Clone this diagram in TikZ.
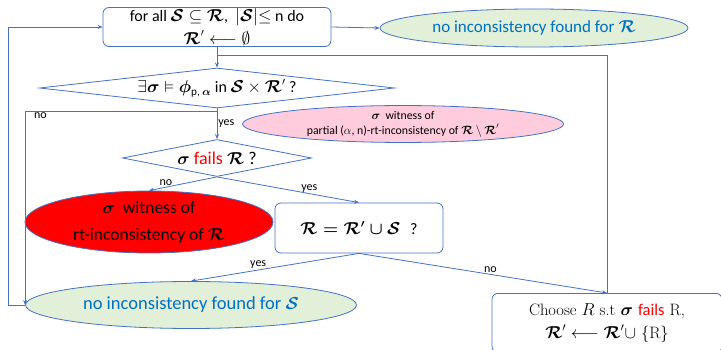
\documentclass[tikz,border=0pt]{standalone}
\usepackage{amsmath,amssymb,bm}
\usepackage{fontspec}
\newfontfamily\carl{Carlito}
\usetikzlibrary{shapes.geometric,arrows.meta,calc}
\definecolor{lnblue}{HTML}{4472C4}
\definecolor{grfill}{HTML}{E2F0D9}
\definecolor{pkfill}{HTML}{FFCCDD}
\definecolor{txblue}{HTML}{0070C0}
\newcommand{\bR}{\bm{\mathcal{R}}}
\newcommand{\bS}{\bm{\mathcal{S}}}
\newcommand{\bsig}{\bm{\sigma}}
\tikzset{
  boxnode/.style={draw=lnblue, line width=0.8pt, rounded corners=6pt, align=center, inner sep=0pt},
  ellnode/.style={ellipse, draw=lnblue, line width=0.8pt, inner sep=0pt, align=center},
  dianode/.style={diamond, draw=lnblue, line width=0.8pt, inner sep=0pt, align=center},
  arr/.style={draw=lnblue, line width=0.8pt, -{Stealth[length=5pt,width=4pt]}},
  ln/.style={draw=lnblue, line width=0.8pt},
  lbl/.style={font=\carl\fontsize{12}{14}\selectfont, inner sep=1pt}
}
\begin{document}
\begin{tikzpicture}[x=1pt,y=-1pt]
\useasboundingbox (0,0) rectangle (721,350);
\node[boxnode, minimum width=228, minimum height=39, font=\carl\fontsize{16}{21}\selectfont] (top) at (217,27)
  {for all $\bS \subseteq \bR$,\ \ $|\bS|{\le}$ n do\\[2pt] $\bR' \longleftarrow \emptyset$};
\node[ellnode, fill=grfill, minimum width=308, minimum height=38, text=txblue, font=\carl\fontsize{17}{20}\selectfont] (eR) at (534,28)
  {no inconsistency found for $\bR$};
\node[dianode, aspect=9, minimum width=355, minimum height=40, font=\carl\fontsize{16}{19}\selectfont] (d1) at (217,88)
  {$\exists\bsig \vDash \boldsymbol{\phi}_{\text{p, }\bm{\alpha}}$ in $\bS \times \bR'$ ?};
\node[ellnode, fill=pkfill, minimum width=321, minimum height=34, font=\carl\fontsize{11.8}{15}\selectfont] (pk) at (403,124)
  {$\bsig$\ \ witness of\\ partial ($\alpha$, n)-rt-inconsistency of $\bR \setminus \bR'$};
\node[dianode, aspect=5, minimum width=189, minimum height=37, font=\carl\fontsize{18}{21}\selectfont] (d2) at (217,158)
  {$\bsig$ \textcolor{red}{fails} $\bR$ ?};
\node[ellnode, fill=red, minimum width=248, minimum height=62, font=\carl\fontsize{17.5}{27}\selectfont] (rd) at (149,222)
  {$\bsig$\ \ witness of\\ rt-inconsistency of $\bR$};
\node[boxnode, minimum width=168, minimum height=50, font=\fontsize{16}{19}\selectfont] (eq) at (359,228)
  {{\boldmath$\mathcal{R} = \mathcal{R}' \cup \mathcal{S}$}\ \ {\carl ?}};
\node[ellnode, fill=grfill, minimum width=331, minimum height=47, text=txblue, font=\carl\fontsize{18.5}{22}\selectfont] (eS) at (191,305)
  {no inconsistency found for $\bS$};
\node[boxnode, minimum width=230, minimum height=59, font=\fontsize{16.5}{20}\selectfont, anchor=north] (ch) at (607,293)
  {Choose $R$ s.t $\bsig$ {\carl\color{red}fails} R,\\[3pt] $\bR' \longleftarrow \bR' \cup$ \{R\}};
% connectors
\coordinate (j1) at (217,55);
\coordinate (j2) at (217,111);
\draw[arr] (top.east) -- (eR.west);
\draw[arr] (top.south) -- (d1.north);
\draw[ln] (ch.north) |- (j1);
\draw[arr] (d1.south) -- (d2.north) node[lbl, right, pos=0.5] {yes};
\draw[arr] (j2) -| (eS.west) node[lbl, below, pos=0.46] {no};
\draw[arr] (eS.west) -- ++(-17,0) |- (top.west);
\draw[arr] (d2.south) -- (rd.north) node[lbl, above, pos=0.75] {no};
\draw[arr] (d2.south) -- (eq.north) node[lbl, above, pos=0.65] {yes};
\draw[arr] (eq.south) -- (eS.north) node[lbl, above, pos=0.6] {yes};
\draw[arr] (eq.south) -- (ch.north) node[lbl, above, pos=0.53] {no};
\end{tikzpicture}
\end{document}
